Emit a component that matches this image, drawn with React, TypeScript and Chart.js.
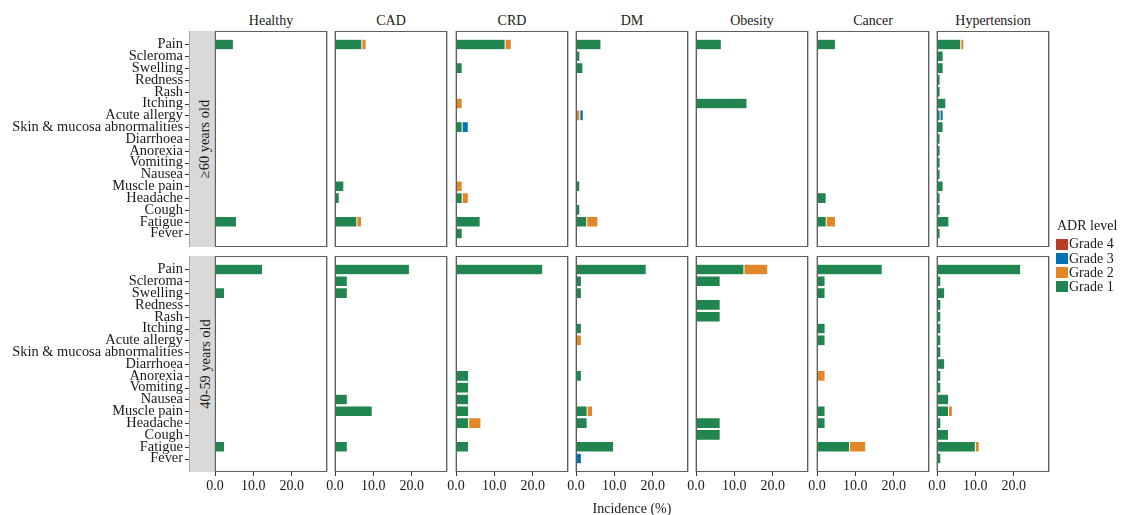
import React, { useEffect, useRef } from 'react';
import { Chart, registerables } from 'chart.js';

Chart.register(...registerables);

const FONT = "'Liberation Serif', 'Times New Roman', serif";
Chart.defaults.font.family = FONT;

const categories = ['Pain', 'Scleroma', 'Swelling', 'Redness', 'Rash', 'Itching', 'Acute allergy', 'Skin & mucosa abnormalities', 'Diarrhoea', 'Anorexia', 'Vomiting', 'Nausea', 'Muscle pain', 'Headache', 'Cough', 'Fatigue', 'Fever'];
const diseases = ['Healthy', 'CAD', 'CRD', 'DM', 'Obesity', 'Cancer', 'Hypertension'];
const ageGroups = ['≥60 years old', '40-59 years old'];
const grades = ['Grade 1', 'Grade 2', 'Grade 3', 'Grade 4'];
const gradeColors = ['#20854E', '#E18727', '#0072B5', '#BC3C29'];
const xTicks = [0, 10, 20];
const X_MAX = 29.2;

// ≥60 years old — rows follow `diseases`, columns follow `categories`
const g1Old = [
  [4.8, 0, 0, 0, 0, 0, 0, 0, 0, 0, 0, 0, 0, 0, 0, 5.6, 0],
  [7.0, 0, 0, 0, 0, 0, 0, 0, 0, 0, 0, 0, 2.3, 1.1, 0, 5.7, 0],
  [12.8, 0, 1.6, 0, 0, 0, 0, 1.6, 0, 0, 0, 0, 0, 1.6, 0, 6.3, 1.6],
  [6.5, 1.0, 1.8, 0, 0, 0, 0, 0, 0, 0, 0, 0, 1.0, 0, 1.0, 2.8, 0],
  [6.6, 0, 0, 0, 0, 13.3, 0, 0, 0, 0, 0, 0, 0, 0, 0, 0, 0],
  [4.8, 0, 0, 0, 0, 0, 0, 0, 0, 0, 0, 0, 0, 2.4, 0, 2.4, 0],
  [6.2, 1.6, 1.6, 0.8, 0.8, 2.3, 0.8, 1.6, 0.8, 0.8, 0.8, 0.8, 1.6, 0.8, 0.8, 3.1, 0.8],
];
const g2Old = [
  [0, 0, 0, 0, 0, 0, 0, 0, 0, 0, 0, 0, 0, 0, 0, 0, 0],
  [1.1, 0, 0, 0, 0, 0, 0, 0, 0, 0, 0, 0, 0, 0, 0, 1.2, 0],
  [1.6, 0, 0, 0, 0, 1.6, 0, 0, 0, 0, 0, 0, 1.6, 1.6, 0, 0, 0],
  [0, 0, 0, 0, 0, 0, 1.0, 0, 0, 0, 0, 0, 0, 0, 0, 2.9, 0],
  [0, 0, 0, 0, 0, 0, 0, 0, 0, 0, 0, 0, 0, 0, 0, 0, 0],
  [0, 0, 0, 0, 0, 0, 0, 0, 0, 0, 0, 0, 0, 0, 0, 2.4, 0],
  [0.8, 0, 0, 0, 0, 0, 0, 0, 0, 0, 0, 0, 0, 0, 0, 0, 0],
];
const g3Old = [
  [0, 0, 0, 0, 0, 0, 0, 0, 0, 0, 0, 0, 0, 0, 0, 0, 0],
  [0, 0, 0, 0, 0, 0, 0, 0, 0, 0, 0, 0, 0, 0, 0, 0, 0],
  [0, 0, 0, 0, 0, 0, 0, 1.6, 0, 0, 0, 0, 0, 0, 0, 0, 0],
  [0, 0, 0, 0, 0, 0, 0.9, 0, 0, 0, 0, 0, 0, 0, 0, 0, 0],
  [0, 0, 0, 0, 0, 0, 0, 0, 0, 0, 0, 0, 0, 0, 0, 0, 0],
  [0, 0, 0, 0, 0, 0, 0, 0, 0, 0, 0, 0, 0, 0, 0, 0, 0],
  [0, 0, 0, 0, 0, 0, 0.8, 0, 0, 0, 0, 0, 0, 0, 0, 0, 0],
];
const g4Old = [
  [0, 0, 0, 0, 0, 0, 0, 0, 0, 0, 0, 0, 0, 0, 0, 0, 0],
  [0, 0, 0, 0, 0, 0, 0, 0, 0, 0, 0, 0, 0, 0, 0, 0, 0],
  [0, 0, 0, 0, 0, 0, 0, 0, 0, 0, 0, 0, 0, 0, 0, 0, 0],
  [0, 0, 0, 0, 0, 0, 0, 0, 0, 0, 0, 0, 0, 0, 0, 0, 0],
  [0, 0, 0, 0, 0, 0, 0, 0, 0, 0, 0, 0, 0, 0, 0, 0, 0],
  [0, 0, 0, 0, 0, 0, 0, 0, 0, 0, 0, 0, 0, 0, 0, 0, 0],
  [0, 0, 0, 0, 0, 0, 0, 0, 0, 0, 0, 0, 0, 0, 0, 0, 0],
];

// 40-59 years old
const g1Mid = [
  [12.4, 0, 2.5, 0, 0, 0, 0, 0, 0, 0, 0, 0, 0, 0, 0, 2.5, 0],
  [19.4, 3.2, 3.2, 0, 0, 0, 0, 0, 0, 0, 0, 3.2, 9.7, 0, 0, 3.2, 0],
  [22.6, 0, 0, 0, 0, 0, 0, 0, 0, 3.3, 3.3, 3.3, 3.3, 3.3, 0, 3.3, 0],
  [18.3, 1.4, 1.4, 0, 0, 1.4, 0, 0, 0, 1.4, 0, 0, 2.9, 2.9, 0, 9.8, 0],
  [12.5, 6.3, 0, 6.3, 6.3, 0, 0, 0, 0, 0, 0, 0, 0, 6.3, 6.3, 0, 0],
  [17.0, 2.1, 2.1, 0, 0, 2.1, 2.1, 0, 0, 0, 0, 0, 2.1, 2.1, 0, 8.5, 0],
  [21.8, 1.0, 2.0, 1.0, 1.0, 1.0, 1.0, 1.0, 2.0, 1.0, 1.0, 3.0, 3.0, 1.0, 3.0, 10.0, 1.0],
];
const g2Mid = [
  [0, 0, 0, 0, 0, 0, 0, 0, 0, 0, 0, 0, 0, 0, 0, 0, 0],
  [0, 0, 0, 0, 0, 0, 0, 0, 0, 0, 0, 0, 0, 0, 0, 0, 0],
  [0, 0, 0, 0, 0, 0, 0, 0, 0, 0, 0, 0, 0, 3.2, 0, 0, 0],
  [0, 0, 0, 0, 0, 0, 1.4, 0, 0, 0, 0, 0, 1.4, 0, 0, 0, 0],
  [6.2, 0, 0, 0, 0, 0, 0, 0, 0, 0, 0, 0, 0, 0, 0, 0, 0],
  [0, 0, 0, 0, 0, 0, 0, 0, 0, 2.1, 0, 0, 0, 0, 0, 4.2, 0],
  [0, 0, 0, 0, 0, 0, 0, 0, 0, 0, 0, 0, 1.0, 0, 0, 1.0, 0],
];
const g3Mid = [
  [0, 0, 0, 0, 0, 0, 0, 0, 0, 0, 0, 0, 0, 0, 0, 0, 0],
  [0, 0, 0, 0, 0, 0, 0, 0, 0, 0, 0, 0, 0, 0, 0, 0, 0],
  [0, 0, 0, 0, 0, 0, 0, 0, 0, 0, 0, 0, 0, 0, 0, 0, 0],
  [0, 0, 0, 0, 0, 0, 0, 0, 0, 0, 0, 0, 0, 0, 0, 0, 1.4],
  [0, 0, 0, 0, 0, 0, 0, 0, 0, 0, 0, 0, 0, 0, 0, 0, 0],
  [0, 0, 0, 0, 0, 0, 0, 0, 0, 0, 0, 0, 0, 0, 0, 0, 0],
  [0, 0, 0, 0, 0, 0, 0, 0, 0, 0, 0, 0, 0, 0, 0, 0, 0],
];
const g4Mid = [
  [0, 0, 0, 0, 0, 0, 0, 0, 0, 0, 0, 0, 0, 0, 0, 0, 0],
  [0, 0, 0, 0, 0, 0, 0, 0, 0, 0, 0, 0, 0, 0, 0, 0, 0],
  [0, 0, 0, 0, 0, 0, 0, 0, 0, 0, 0, 0, 0, 0, 0, 0, 0],
  [0, 0, 0, 0, 0, 0, 0, 0, 0, 0, 0, 0, 0, 0, 0, 0, 0],
  [0, 0, 0, 0, 0, 0, 0, 0, 0, 0, 0, 0, 0, 0, 0, 0, 0],
  [0, 0, 0, 0, 0, 0, 0, 0, 0, 0, 0, 0, 0, 0, 0, 0, 0],
  [0, 0, 0, 0, 0, 0, 0, 0, 0, 0, 0, 0, 0, 0, 0, 0, 0],
];

const gradeTables = [
  [g1Old, g2Old, g3Old, g4Old],
  [g1Mid, g2Mid, g3Mid, g4Mid],
];

// layout (page pixels)
const PANEL_LEFTS = [215, 335, 456, 576, 696, 817, 937];
const PANEL_TOPS = [31, 256];
const PANEL_W = 112;
const PANEL_H = 216;
const MARGIN = 14;
const VPAD = 46;
const X_AXIS_H = 28;
const Y_AXIS_W = 215;

const framePlugin = {
  id: 'panelFrame',
  afterDraw(chart: any) {
    const { ctx, chartArea } = chart;
    const { left, top, right, bottom } = chartArea;
    ctx.save();
    ctx.lineWidth = 1;
    ctx.strokeStyle = '#c4c4c4';
    ctx.beginPath();
    ctx.moveTo(left - 0.5, top);
    ctx.lineTo(left - 0.5, bottom);
    ctx.moveTo(right + 0.5, top);
    ctx.lineTo(right + 0.5, bottom);
    ctx.stroke();
    ctx.strokeStyle = '#5e5e5e';
    ctx.strokeRect(left + 0.5, top + 0.5, right - left - 1, bottom - top - 1);
    ctx.restore();
  },
};

const yTickMarksPlugin = {
  id: 'yTickMarks',
  afterDraw(chart: any) {
    const { ctx, chartArea } = chart;
    const yScale = chart.scales.y;
    ctx.save();
    ctx.strokeStyle = '#333333';
    ctx.lineWidth = 1;
    ctx.beginPath();
    categories.forEach((_, i) => {
      const y = Math.round(yScale.getPixelForValue(i)) + 0.5;
      ctx.moveTo(chartArea.left - 30, y);
      ctx.lineTo(chartArea.left - 26, y);
    });
    ctx.stroke();
    ctx.restore();
  },
};

function Panel({ row, col }: { row: number; col: number }) {
  const ref = useRef<HTMLCanvasElement>(null);
  const isLeft = col === 0;
  const isBottom = row === 1;
  const pl = PANEL_LEFTS[col];
  const pt = PANEL_TOPS[row];
  const divLeft = isLeft ? 0 : pl - MARGIN;
  const divTop = pt - VPAD;
  const divW = pl + PANEL_W + MARGIN - divLeft;
  const divH = VPAD + PANEL_H + VPAD;

  useEffect(() => {
    const tables = gradeTables[row];
    const datasets = grades.map((g, gi) => ({
      label: g,
      data: categories.map((_, ci) => ({ x: tables[gi][col][ci] || null, y: ci })),
      backgroundColor: gradeColors[gi],
      borderColor: 'rgba(255,255,255,0.3)',
      borderWidth: 0.5,
      borderSkipped: false,
      barPercentage: 0.9,
      categoryPercentage: 1,
    }));
    const chart = new Chart(ref.current as HTMLCanvasElement, {
      type: 'bar',
      data: { datasets: datasets as any },
      plugins: isLeft ? [framePlugin, yTickMarksPlugin] : [framePlugin],
      options: {
        animation: false,
        responsive: true,
        maintainAspectRatio: false,
        indexAxis: 'y',
        layout: {
          padding: {
            left: isLeft ? 0 : MARGIN,
            right: MARGIN,
            top: VPAD,
            bottom: isBottom ? VPAD - X_AXIS_H : VPAD,
          },
        },
        plugins: {
          legend: { display: false },
          tooltip: { enabled: false },
        },
        scales: {
          x: {
            type: 'linear',
            stacked: true,
            min: 0,
            max: X_MAX,
            display: isBottom,
            afterBuildTicks: (s: any) => {
              s.ticks = xTicks.map((v) => ({ value: v }));
            },
            afterFit: (s: any) => {
              if (isBottom) s.height = X_AXIS_H;
            },
            ticks: {
              font: { family: FONT, size: 14 },
              color: '#1a1a1a',
              padding: 2,
              maxRotation: 0,
              autoSkip: false,
              callback: (v: any) => Number(v).toFixed(1),
            },
            grid: {
              display: true,
              drawOnChartArea: false,
              drawTicks: true,
              tickLength: 4,
              color: '#333333',
              lineWidth: 1,
            },
            border: { display: false },
          },
          y: {
            type: 'linear',
            stacked: true,
            min: -0.6,
            max: categories.length - 1 + 0.6,
            reverse: true,
            display: isLeft,
            afterBuildTicks: (s: any) => {
              s.ticks = categories.map((_, i) => ({ value: i }));
            },
            afterFit: (s: any) => {
              if (isLeft) s.width = Y_AXIS_W;
            },
            ticks: {
              font: { family: FONT, size: 14.4 },
              color: '#1a1a1a',
              padding: 32,
              autoSkip: false,
              callback: (v: any) => categories[Math.round(Number(v))] ?? '',
            },
            grid: { display: false, drawTicks: false },
            border: { display: false },
          },
        },
      } as any,
    });
    return () => chart.destroy();
  }, [row, col]);

  return (
    <div style={{ position: 'absolute', left: divLeft, top: divTop, width: divW, height: divH }}>
      <canvas ref={ref} />
    </div>
  );
}

const textStyle: React.CSSProperties = {
  fontFamily: FONT,
  fontSize: 14,
  lineHeight: '16px',
  color: '#1a1a1a',
  whiteSpace: 'nowrap',
};

export default function App() {
  const legendItems = [3, 2, 1, 0];
  return (
    <div style={{ position: 'absolute', left: 0, top: 0, width: 1123, height: 515, background: '#fff', overflow: 'hidden' }}>
      {PANEL_TOPS.map((pt, r) => (
        <div
          key={'strip' + r}
          style={{
            position: 'absolute',
            left: 189,
            top: pt,
            width: 26,
            height: PANEL_H,
            background: '#d9d9d9',
            borderLeft: '1px solid #a3a3a3',
            boxSizing: 'border-box',
            display: 'flex',
            alignItems: 'center',
            justifyContent: 'center',
          }}
        >
          <div style={{ ...textStyle, fontSize: 14.4, transform: 'translateX(2px) rotate(-90deg)' }}>{ageGroups[r]}</div>
        </div>
      ))}
      {diseases.map((d, c) => (
        <div
          key={'title' + c}
          style={{ ...textStyle, position: 'absolute', left: PANEL_LEFTS[c], top: 13, width: PANEL_W, textAlign: 'center' }}
        >
          {d}
        </div>
      ))}
      {PANEL_TOPS.map((_, r) => diseases.map((__, c) => <Panel key={r + '-' + c} row={r} col={c} />))}
      <div style={{ ...textStyle, position: 'absolute', left: PANEL_LEFTS[0], top: 501, width: PANEL_LEFTS[6] + PANEL_W - PANEL_LEFTS[0], textAlign: 'center' }}>
        Incidence (%)
      </div>
      <div style={{ ...textStyle, position: 'absolute', left: 1057, top: 217.5 }}>ADR level</div>
      {legendItems.map((gi, k) => {
        const cy = 244 + 14.2 * k;
        return (
          <React.Fragment key={'leg' + gi}>
            <div style={{ position: 'absolute', left: 1056, top: cy - 5.5, width: 11.5, height: 11, background: gradeColors[gi] }} />
            <div style={{ ...textStyle, position: 'absolute', left: 1069, top: cy - 7.7 }}>{grades[gi]}</div>
          </React.Fragment>
        );
      })}
    </div>
  );
}
